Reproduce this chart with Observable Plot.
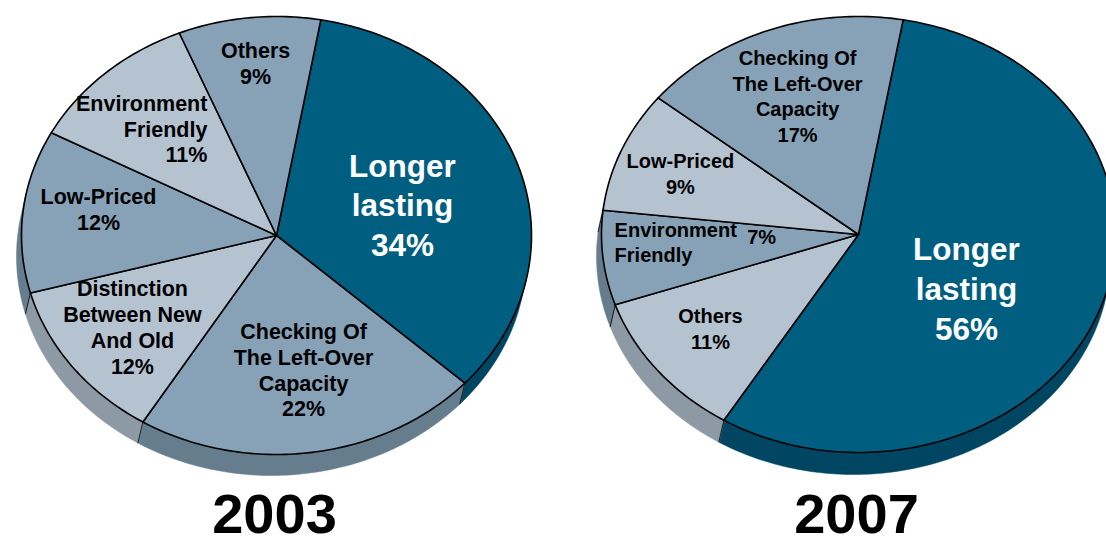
<!DOCTYPE html>
<html><head><meta charset="utf-8">
<script src="https://cdn.jsdelivr.net/npm/d3@7"></script>
<script src="https://cdn.jsdelivr.net/npm/@observablehq/plot@0.6"></script>
<style>body{margin:0;background:#fff;}#chart svg{display:block;}</style>
</head><body><div id="chart"></div>
<script>
// ---------- data ----------
const categories2003 = ["Longer lasting", "Checking Of The Left-Over Capacity", "Distinction Between New And Old", "Low-Priced", "Environment Friendly", "Others"];
const values2003 = [34, 22, 12, 12, 11, 9];
const labelLines2003 = [["Longer", "lasting"], ["Checking Of", "The Left-Over", "Capacity"], ["Distinction", "Between New", "And Old"], ["Low-Priced"], ["Environment", "Friendly"], ["Others"]];
const tones2003 = ["dark", "medium", "light", "medium", "light", "medium"];

const categories2007 = ["Longer lasting", "Others", "Environment Friendly", "Low-Priced", "Checking Of The Left-Over Capacity"];
const values2007 = [56, 11, 7, 9, 17];
const labelLines2007 = [["Longer", "lasting"], ["Others"], ["Environment", "Friendly"], ["Low-Priced"], ["Checking Of", "The Left-Over", "Capacity"]];
const tones2007 = ["dark", "light", "medium", "light", "medium"];

const years = ["2003", "2007"];

// ---------- styling / layout ----------
const topColor = {dark: "#005f80", medium: "#87a2b7", light: "#b5c3d0"};
const sideColor = {dark: "#004662", medium: "#667d8e", light: "#8d9aa5"};
const W = 1106, H = 544;
const pieLayout = [
  {cx: 276, cy: 235, rx: 255, ry: 219, depth: 21, shiftX: -5, start: 10, small: 21.5, smallLH: 1.2,
   // label anchor as fraction of radii from centre; anchor: text-anchor
   labels: [[0.494, -0.146, "middle"], [0.106, 0.612, "middle"], [-0.565, 0.416, "middle"], [-0.698, -0.123, "middle"], [-0.271, -0.489, "end"], [-0.082, -0.79, "middle"]]},
  {cx: 858, cy: 234, rx: 257, ry: 218, depth: 22, shiftX: -5, start: 10, small: 20, smallLH: 1.28,
   labels: [[0.420, 0.243, "middle"], [-0.576, 0.427, "middle"], [-0.949, 0.032, "start", -0.377, 0.005], [-0.693, -0.284, "middle"], [-0.237, -0.638, "middle"]]}
];

// ---------- geometry from data ----------
const rad = d => d * Math.PI / 180;
const tops = [], sides = [], dividers = [], texts = [], yearText = [];

function buildPie(pi, cats, vals, lines, tones, L) {
  const total = d3.sum(vals);
  const X = t => L.cx + L.rx * Math.sin(rad(t));
  const Y = t => L.cy - L.ry * Math.cos(rad(t));
  // visible side range for extrusion (shiftX, depth)
  const A = L.shiftX / L.rx, B = -L.depth / L.ry;
  const phi = Math.atan2(B, A) * 180 / Math.PI;
  let v0 = -phi; while (v0 < 0) v0 += 360;
  const v1 = v0 + 180;
  let a = L.start;
  cats.forEach((c, i) => {
    const span = vals[i] / total * 360;
    const b = a + span;
    const id = pi + "-" + i;
    // top face
    tops.push({x: L.cx, y: L.cy, id, fill: topColor[tones[i]]});
    const n = Math.max(2, Math.ceil(span));
    for (let k = 0; k <= n; k++) { const t = a + span * k / n; tops.push({x: X(t), y: Y(t), id, fill: topColor[tones[i]]}); }
    // side
    for (const off of [0, 360, -360]) {
      const s0 = Math.max(a, v0 + off), s1 = Math.min(b, v1 + off);
      if (s1 > s0) {
        const sid = id + "s" + off;
        const m = Math.max(2, Math.ceil(s1 - s0));
        for (let k = 0; k <= m; k++) { const t = s0 + (s1 - s0) * k / m; sides.push({x: X(t), y: Y(t), id: sid, fill: sideColor[tones[i]]}); }
        for (let k = m; k >= 0; k--) { const t = s0 + (s1 - s0) * k / m; sides.push({x: X(t) + L.shiftX, y: Y(t) + L.depth, id: sid, fill: sideColor[tones[i]]}); }
      }
    }
    // side divider at slice end
    for (const off of [0, 360, -360]) {
      if (b > v0 + off && b < v1 + off) dividers.push({x1: X(b), y1: Y(b), x2: X(b) + L.shiftX, y2: Y(b) + L.depth});
    }
    // labels
    const lab = L.labels[i];
    const big = tones[i] === "dark";
    const pct = vals[i] + "%";
    const inline = lab.length > 3;
    texts.push({
      x: L.cx + lab[0] * L.rx, y: L.cy + lab[1] * L.ry,
      text: inline ? lines[i].join("\n") : lines[i].concat([pct]).join("\n"),
      anchor: lab[2], big, pie: pi, fill: big ? "#ffffff" : "#000000"
    });
    if (inline) texts.push({x: L.cx + lab[3] * L.rx, y: L.cy + lab[4] * L.ry, text: pct, anchor: "middle", big: false, pie: pi, fill: "#000000"});
    a = b;
  });
  yearText.push({x: L.cx - 2, y: 532, text: years[pi]});
}
buildPie(0, categories2003, values2003, labelLines2003, tones2003, pieLayout[0]);
buildPie(1, categories2007, values2007, labelLines2007, tones2007, pieLayout[1]);

const font = "'Liberation Sans', Arial, Helvetica, sans-serif";
const textMarks = [];
pieLayout.forEach((L, pi) => {
  for (const anchor of ["middle", "start", "end"]) {
    const sel = texts.filter(d => d.pie === pi && !d.big && d.anchor === anchor);
    if (sel.length) textMarks.push(Plot.text(sel, {
      x: "x", y: "y", text: "text", fill: "fill", textAnchor: anchor, lineAnchor: "middle",
      fontSize: L.small, fontWeight: "bold", fontFamily: font, lineHeight: L.smallLH
    }));
  }
});
textMarks.push(Plot.text(texts.filter(d => d.big), {x: "x", y: "y", text: "text", fill: "fill", lineAnchor: "middle", fontSize: 31.5, fontWeight: "bold", fontFamily: font, lineHeight: 1.26}));

const marks = [
  Plot.line(sides, {x: "x", y: "y", z: "id", fill: "fill", stroke: "fill", strokeWidth: 0.5, curve: "linear-closed"}),
  Plot.link(dividers, {x1: "x1", y1: "y1", x2: "x2", y2: "y2", stroke: "#1a1a1a", strokeWidth: 1}),
  Plot.line(tops, {x: "x", y: "y", z: "id", fill: "fill", stroke: "#000", strokeWidth: 1.6, strokeLinejoin: "round", curve: "linear-closed"}),
  ...textMarks,
  Plot.text(yearText, {x: "x", y: "y", text: "text", fill: "#000", lineAnchor: "bottom", fontSize: 56, fontWeight: "bold", fontFamily: font})
];

const chart = Plot.plot({
  width: W, height: H, margin: 0,
  x: {domain: [0, W], range: [0, W], axis: null},
  y: {domain: [0, H], range: [0, H], axis: null},
  color: {type: "identity"},
  style: {background: "#ffffff", overflow: "hidden"},
  marks
});
document.getElementById("chart").append(chart);
</script>
</body></html>
